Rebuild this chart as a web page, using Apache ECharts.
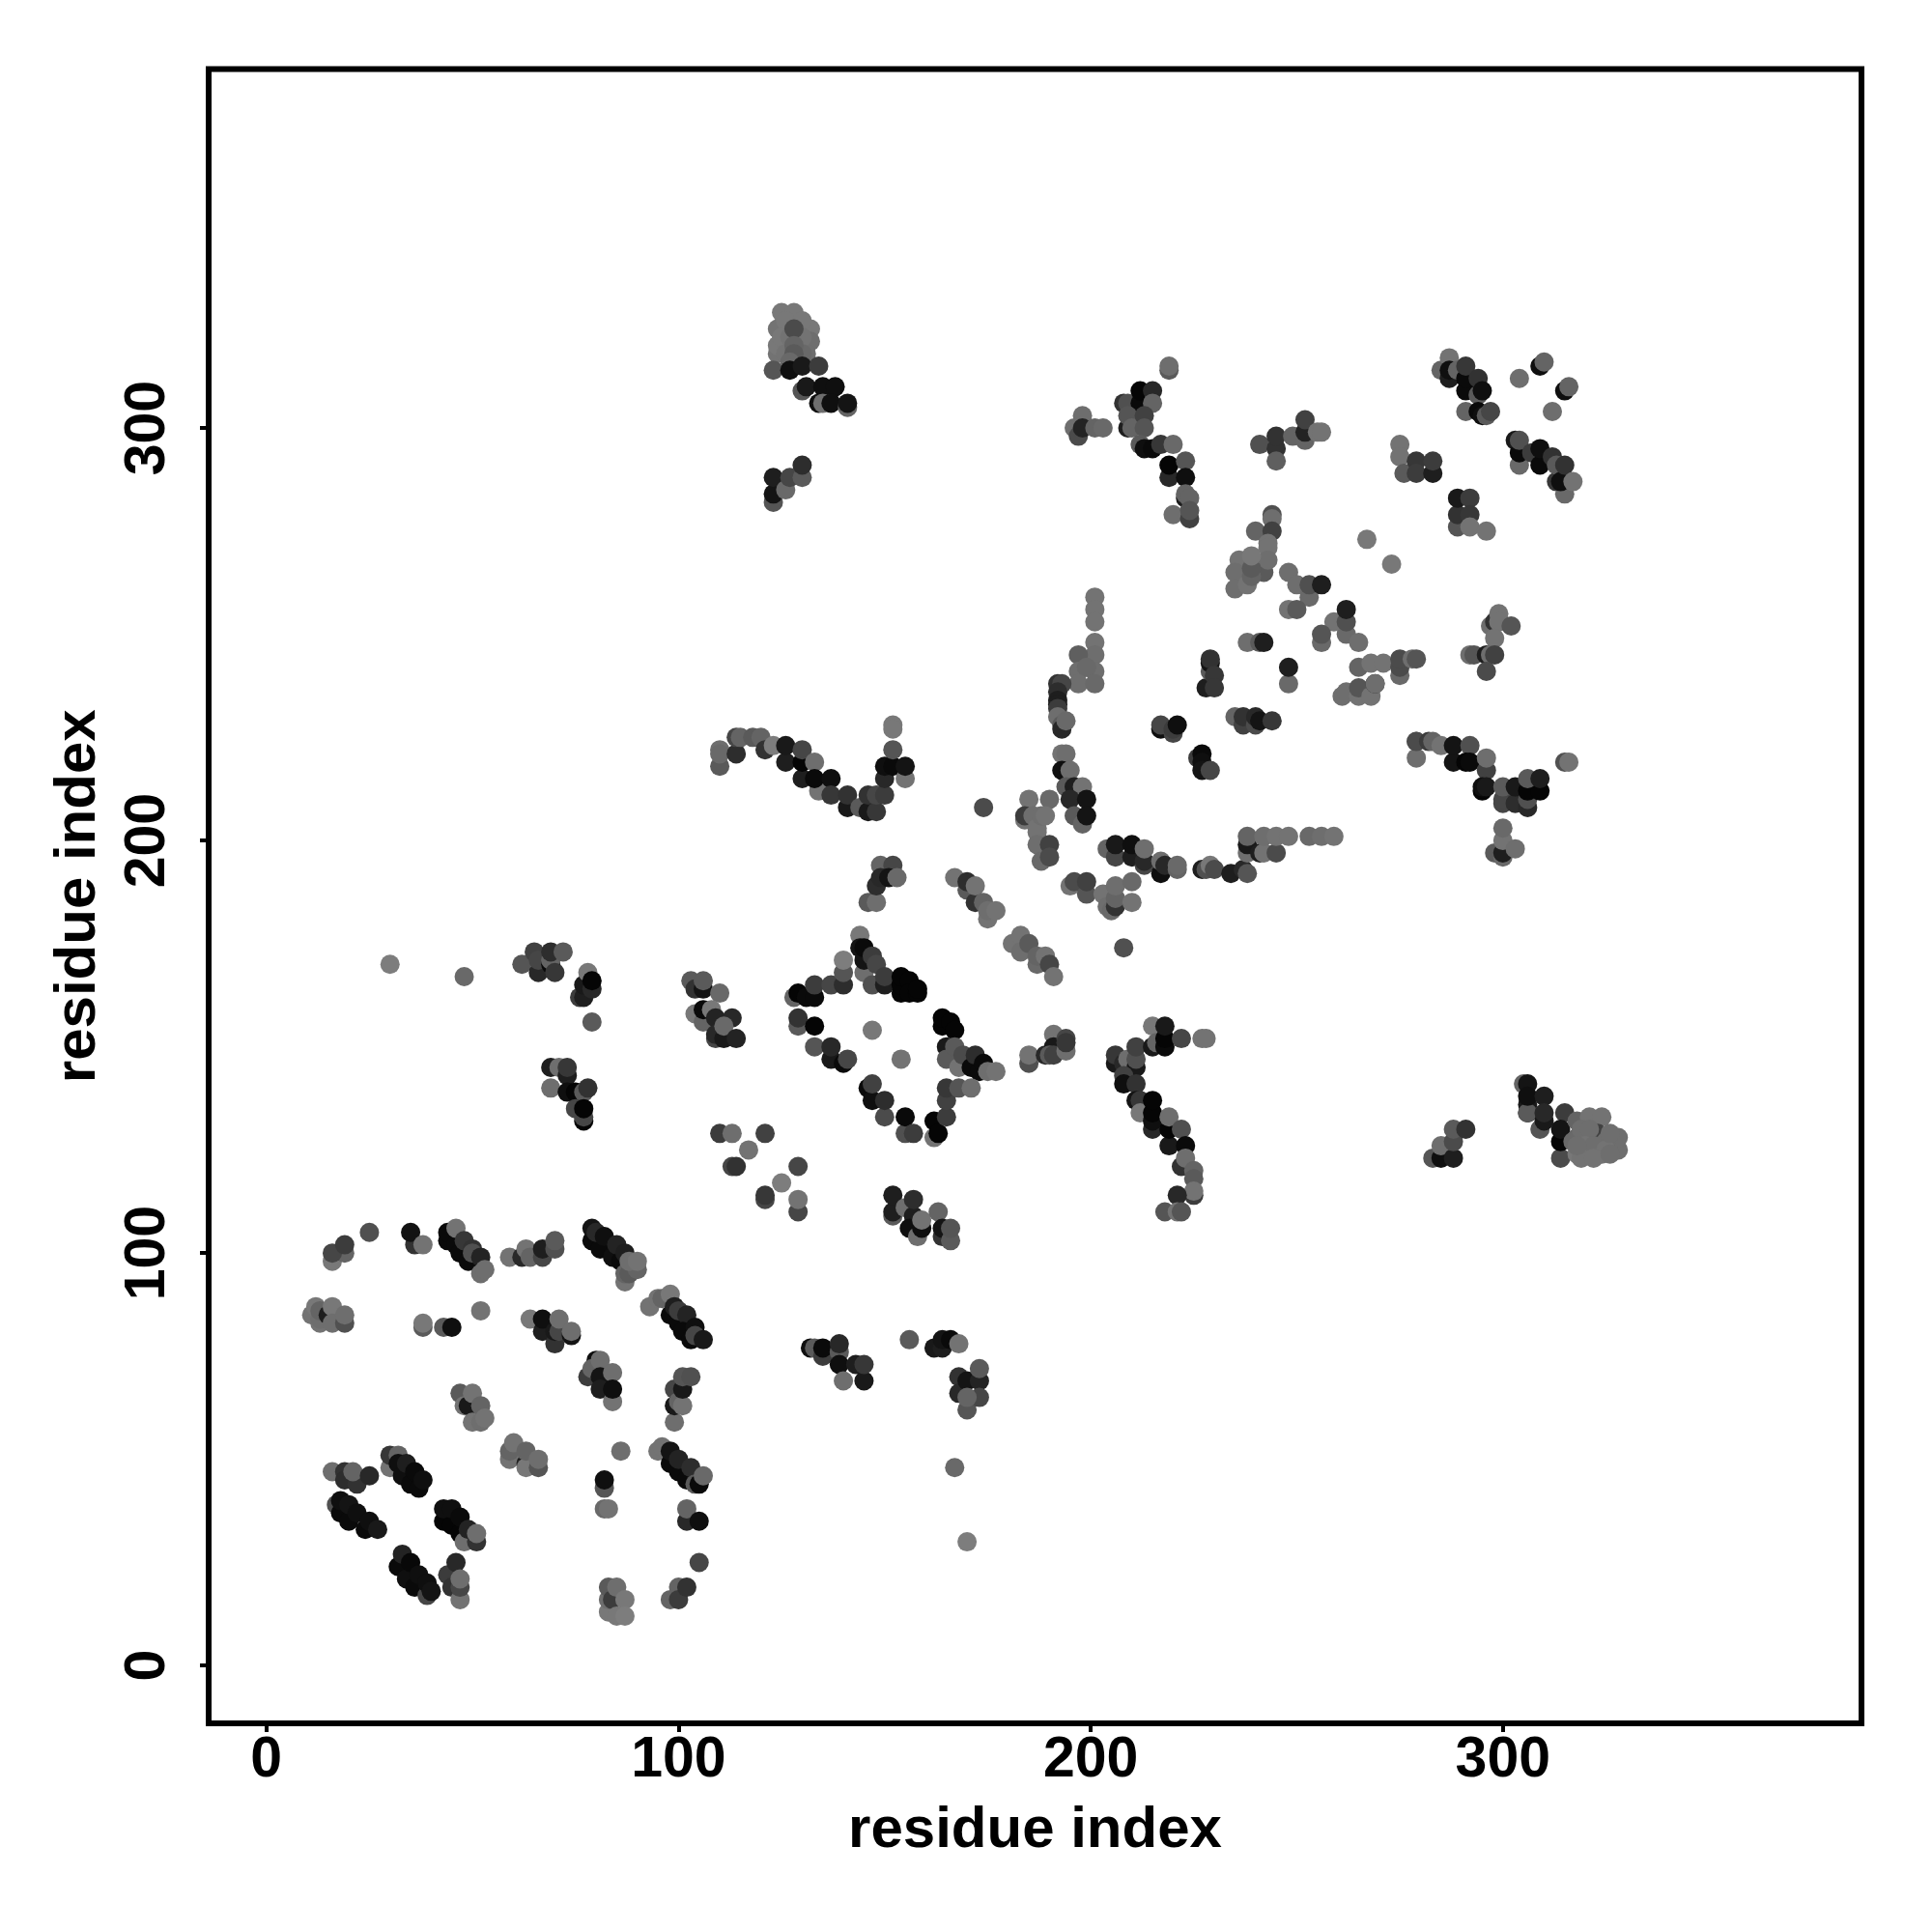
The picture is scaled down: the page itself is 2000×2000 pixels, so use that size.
<!DOCTYPE html>
<html><head><meta charset="utf-8">
<style>html,body{margin:0;padding:0;background:#fff}#c{width:2000px;height:2000px}</style>
<script src="https://cdn.jsdelivr.net/npm/echarts@6/dist/echarts.min.js"></script>
</head><body><div id="c"></div>
<script>
const axisTitle = "residue index";
const tickValues = [0, 100, 200, 300];
// each contact: [residue i, residue j, grey level]
const lowerLeftA = [[16,98,120],[19,100,100],[16,100,70],[19,102,60],[25,105,80],[36,102,50],[35,105,18],[38,102,115],
[44,103,10],[44,105,10],[46,102,10],[47,100,10],[46,106,115],[49,98,10],[48,103,55],[50,101,50],[50,100,80],[52,99,35],[52,95,110],[53,96,110],
[59,99,115],[62,99,40],[63,101,115],[64,99,100],[67,99,70],[67,101,30],[70,101,80],[70,103,90],
[79,103,10],[79,106,20],[81,101,10],[80,105,40],[82,104,15],[84,99,15],[86,98,10],[85,102,35],[87,100,30],[87,93,115],[87,95,100],[88,95,90],[90,96,100],[88,98,110],[90,98,115]];
const lowerLeftB = [[11,85,115],[13,83,115],[13,84,110],[12,87,120],[13,86,100],[15,85,30],[16,87,120],[16,83,110],[19,83,80],[19,85,110],
[38,82,90],[38,83,120],[43,82,90],[45,82,15],[52,86,115],
[64,84,120],[67,81,30],[67,84,15],[70,78,50],[70,81,25],[71,81,70],[71,84,110],[74,80,20],[74,81,110],
[93,87,115],[95,89,115],[96,89,100],[98,90,120],[98,85,10],[99,87,30],[100,83,10],[100,86,60],[102,85,35],[101,81,10],[103,79,10],[104,82,15],[104,80,70],[106,79,25]];
const lowerLeftC = [[78,70,60],[80,74,15],[79,72,100],[81,74,110],[81,70,20],[84,71,110],[81,67,30],[84,64,115],[84,67,15],
[99,59,110],[99,67,70],[99,63,25],[100,64,100],[101,63,115],[101,67,25],[101,70,85],[103,70,80],
[47,66,90],[48,63,115],[49,63,25],[50,59,115],[50,66,115],[52,59,110],[52,63,100],[53,60,115],
[59,50,115],[59,52,100],[60,54,115],[63,49,30],[63,48,120],[63,52,100],[66,48,85],[66,50,110]];
const lowerLeftD = [[16,47,110],[19,47,50],[19,45,45],[22,44,50],[21,47,100],[25,46,40],
[30,48,115],[30,51,55],[32,51,100],[32,49,15],[33,46,15],[34,49,30],[35,44,10],[36,47,10],[37,43,10],[38,45,15],
[17,39,80],[18,37,10],[18,40,15],[20,35,10],[20,39,20],[22,37,15],[24,33,10],[25,35,15],[27,33,25],
[43,35,5],[43,38,15],[45,34,5],[45,38,15],[47,32,5],[47,36,10],[48,30,110],[49,33,35],[51,30,50],[51,32,110],
[32,24,10],[33,27,35],[34,21,15],[35,25,8],[36,19,10],[37,22,15],[39,17,70],[39,20,15],[40,18,20],
[44,22,60],[45,19,50],[46,25,40],[47,16,115],[47,19,70],[47,21,110],
[83,13,120],[83,16,110],[83,19,90],[84,16,60],[85,19,110],[85,12,120],[87,16,120],[87,12,125],
[86,52,110],[82,43,85],[82,45,15],[82,38,105],[83,38,115],
[95,52,115],[96,53,115],[98,49,10],[98,52,20],[100,47,10],[100,50,35],[102,45,10],[103,48,45],[104,44,90],[105,44,10],[106,46,105],
[102,35,40],[102,38,100],[105,35,15],[105,25,70],[98,16,100],[100,19,100],[100,16,60],[102,19,50]];
const lowerMiddle = [[132,77,15],[133,77,90],[135,75,60],[135,77,10],[139,76,90],[139,78,40],[139,73,15],[143,73,30],[145,69,25],[145,73,55],[140,69,110],
[156,79,90],[162,77,25],[164,77,30],[164,79,20],[166,79,10],[168,78,115],
[168,70,50],[168,66,40],[170,69,20],[173,69,35],[173,72,90],[170,62,85],[173,65,70],[170,65,100],
[167,48,105],[170,30,125],
[121,113,70],[121,114,55],[125,117,125],[129,110,70],[129,113,115],[129,121,70],
[110,129,60],[113,129,110],[121,129,65],[117,125,115],[113,121,70],[114,121,50],
[152,109,90],[152,110,30],[152,114,30],[155,111,110],[157,109,30],[157,113,45],[156,106,15],[158,104,110],[159,106,15],[159,108,115],[163,110,100],[164,104,50],[164,106,20],[166,103,90],[166,106,85]];
const middleLeft = [[30,170,125],[48,167,105],
[62,170,85],[65,173,65],[66,168,40],[66,171,70],[69,170,10],[69,171,100],[69,173,45],[70,168,55],[72,173,90],
[76,162,60],[77,162,30],[77,165,25],[78,168,120],[79,164,40],[79,166,5],[79,156,90],
[69,145,30],[71,145,110],[73,143,30],[73,145,55],[69,140,110],[73,139,15],[75,139,5],[77,139,90],[78,140,50],[75,135,70],[77,132,5],[77,133,70],[77,135,5],
[103,166,90],[104,164,50],[106,164,20],[106,166,90],[110,163,105],
[104,158,120],[106,156,100],[106,159,10],[108,159,120],[109,157,35],[113,157,40],[109,152,70],[109,153,40],[111,152,25],[111,155,105],[114,152,35]];
const diamond = [[128,162,100],[129,163,5],[131,162,10],[133,162,10],[133,165,60],[137,165,70],[140,165,45],[140,168,85],[140,171,125],
[144,177,120],[145,168,110],[144,174,20],[145,171,20],[145,174,10],[147,165,80],[147,172,60],[148,170,70],[150,165,30],[150,167,60],
[156,164,100],[154,163,5],[154,165,5],[154,167,5],[156,166,5],[156,163,5],[158,163,5],[158,164,5],
[129,155,90],[129,157,50],[133,155,5],[147,154,120],[133,150,85],[137,147,25],[137,150,40],[140,146,10],[141,147,70],[154,147,115],
[164,155,5],[164,157,5],[166,156,5],[167,154,5],[165,150,25],[165,147,90],[167,150,90],[168,145,115],[169,148,75],[171,145,10],[172,148,45],[173,144,10],[174,146,10],[175,144,110],[177,144,115],
[146,140,10],[147,137,15],[147,141,65],[150,133,75],[150,137,45],[155,129,80],[155,133,10],[157,129,60],[162,128,115],[162,132,5],[163,129,5],[165,133,60],[165,137,65],[165,140,55],[168,140,85],[171,140,110]];
const middleDiag = [[167,191,115],[170,188,90],[170,190,45],[172,185,50],[172,189,115],[174,185,100],[175,181,115],[175,183,110],[177,183,115],
[181,175,115],[183,177,115],[183,173,110],[185,175,90],[187,170,105],[187,172,100],[189,172,115],[190,170,70],[191,167,115],
[185,146,80],[185,148,115],[189,148,40],[191,153,115],[191,150,25],[190,148,90],[191,148,65],[194,149,110],[194,152,70],[194,151,55]];
const rightCurve = [[206,146,25],[206,148,55],[208,146,40],[209,147,110],[211,145,25],[211,147,80],[211,150,65],[208,143,65],[208,141,15],[211,141,50],
[215,150,25],[215,155,120],[216,151,100],[218,150,10],[218,152,5],[218,155,25],[222,152,70],[227,152,115],[228,152,115],
[211,137,20],[212,137,55],[212,134,120],[215,130,40],[215,132,15],[215,134,5],[215,137,5],[219,126,25],[219,130,5],[219,133,110],[222,130,80],[223,126,10],[222,121,50],[223,123,110],[225,114,60],[225,120,100],[225,118,90],[225,115,115],[221,114,40],[218,110,85],[221,110,115],[222,110,85],
[283,123,85],[285,123,15],[285,126,110],[288,123,30],[288,127,75],[288,130,90],[291,130,50],
[305,141,100],[306,141,20],[306,134,10],[306,136,25],[306,134,90],[306,138,15],[310,138,30],[309,130,85],[310,132,25],[310,134,40],[314,123,75],[315,134,60],[314,127,5],[314,130,20],[318,132,100],[318,128,100],[317,127,105],[321,133,115],[324,133,115],[321,128,110],[323,129,65],[328,125,110],[328,128,110],[318,124,120],[321,124,120],[324,124,115],
[319,130,110],[321,130,110],[325,127,110],[320,126,115],[322,126,110],[325,125,115],[319,123,115],[322,123,115],[326,124,110],[326,129,110],[318,126,110]];
const upperCurve = [[110,218,90],[110,222,110],[110,221,105],[114,221,45],[114,225,70],[115,225,100],[118,225,90],[120,225,100],[121,222,50],[123,223,125],[126,219,30],[126,223,25],[130,215,30],[130,219,5],[130,222,70],[133,219,110],[134,212,115],[133,215,10],[137,215,15],[137,211,55],[141,208,25],[141,211,50],[144,208,90],[146,207,25],[146,211,50],[148,207,55],[148,211,70],[150,211,60],
[150,215,40],[150,218,15],[152,218,10],[152,222,85],[152,228,120],[152,227,120],[155,215,115],[155,218,20],
[149,194,100],[152,194,70],[146,185,90],[148,185,110],[148,189,45],[149,191,40],[151,191,20],[153,191,105]];
const centralFan = [[174,208,75],
[185,210,115],[190,210,105],[184,205,115],[184,206,60],[186,206,110],[187,202,115],[187,203,115],[188,206,110],[189,206,115],[187,199,110],[190,199,65],[188,195,105],[190,196,75],
[201,259,115],[201,256,115],[201,253,115],[201,248,115],[201,245,110],[197,245,95],[197,241,110],[201,241,110],[199,242,105],[197,238,110],[201,238,105],
[192,238,50],[193,238,70],[192,236,45],[192,234,30],[192,233,30],[192,232,60],[192,230,110],[193,228,90],[193,227,40],[194,229,105],[193,221,115],[194,221,110],[193,217,15],[195,217,110],[194,213,90],[196,213,30],[198,213,115],[195,210,40],[199,210,20],[196,206,90],[198,204,100],[199,206,20],
[204,198,100],[206,196,70],[206,199,25],[210,196,30],[210,199,15],[213,194,70],[213,195,40],[213,198,110],[217,192,15],[217,195,110],[218,194,40],[221,193,100],[221,194,105],
[227,193,30],[228,193,80],[229,194,120],[230,193,75],[234,192,30],[237,193,40],[238,192,85],
[238,197,110],[238,199,25],[238,201,100],[241,197,30],[242,197,115],[242,201,110],[245,197,75],[245,201,115],[248,201,115],[253,201,105],[256,201,110],[259,201,115],
[195,189,115],[196,190,75],[199,187,85],[199,190,65],[203,187,115],[204,184,110],[205,183,105],[206,184,50],[206,186,100],[206,189,110],[210,185,115],[210,190,105],[208,174,80]];
const upperCentre = [[240,275,100],[244,279,80],[244,278,110],[244,275,65],[243,272,115],[243,271,115],[236,268,115],[235,265,110],[235,261,110],[238,262,115],[242,265,90],[243,268,110],[239,264,100],[239,266,90],[239,269,120],
[248,265,110],[250,262,110],[253,259,105],[253,262,80],[256,262,30],[248,256,115],[250,256,90],[267,273,120],[273,267,120],
[262,250,105],[259,253,115],[262,253,80],[262,256,30],[256,248,105],[256,250,85],[265,248,110],
[238,248,110],[241,248,90],[242,248,30],
[228,237,30],[229,241,90],[229,243,20],[229,244,50],[230,240,55],[230,237,55],[248,238,105],[248,242,30],
[265,242,100],[268,243,115],[271,243,115],[275,240,105],[275,242,75],[275,244,75],[278,244,110],[279,244,85],
[261,235,110],[262,236,110],[265,235,115],[265,237,85],[268,235,115],[269,238,40],[269,238,110],
[297,252,110],[298,253,50],[299,255,115],[299,253,115],[302,252,85],[298,249,115],[292,245,110],[293,245,85],[296,245,30],[297,245,110],[298,245,65],[296,241,75],
[235,230,100],[237,228,65],[237,230,50],[240,228,75],[240,230,40],[241,229,20],[244,229,55],
[217,227,15],[217,228,70],[220,226,70],[220,227,60],[221,228,15],[226,220,60],[227,221,10],[227,219,15],[227,217,20],[229,217,70]];
const rightBranch = [[279,220,110],[279,224,110],[279,224,75],[282,224,60],[283,224,100],[285,223,115],[288,219,20],[288,223,20],[292,223,80],[291,219,5],[292,219,10],[296,217,65],[296,220,110],
[295,212,5],[295,213,15],[296,213,25],[300,209,70],[300,210,70],[300,213,90],[303,209,45],[303,213,25],[306,208,40],[306,210,80],[306,212,5],[309,212,5],[306,215,90],[309,215,30],
[298,197,90],[300,196,105],[300,197,30],[300,200,115],[300,203,105],[303,198,110],[315,219,80],[316,219,115]];
const topRight = [[285,314,100],[287,317,115],[287,312,30],[287,314,15],[289,314,100],[291,309,10],[291,312,10],[291,315,55],[294,308,90],[294,312,50],[295,309,15],
[291,304,100],[294,304,10],[295,303,15],[296,303,90],[297,304,70],
[304,312,110],[309,315,15],[310,316,100],[315,309,15],[316,310,100],[312,304,110],
[275,296,115],[275,293,115],[276,289,90],[279,292,55],[279,289,60],[283,289,30],[283,292,60],
[289,276,85],[289,279,50],[289,283,25],[292,283,60],[292,279,55],[292,276,115],[296,275,115],
[304,291,105],[303,297,25],[304,294,10],[304,297,80],[307,294,60],[309,291,10],[309,295,15],[312,293,50],[313,287,55],[313,291,90],[315,284,105],[314,287,15],[315,291,50],[317,287,115]];
const topLeft = [[124,318,115],[124,320,120],[124,324,115],[125,328,120],[128,328,120],[132,324,120],[132,321,110],[131,318,110],
[126,326,120],[130,326,120],[125,322,120],[127,322,115],[130,322,115],[126,318,115],[130,318,105],[128,316,110],
[128,324,75],[128,320,100],[128,318,90],[127,316,105],
[123,314,85],[127,314,15],[130,315,25],[134,315,60],[130,309,85],[131,310,25],[135,310,15],[138,310,15],[134,306,15],[135,306,110],[137,306,15],[141,305,100],[141,306,20],
[123,282,85],[123,284,20],[123,288,30],[126,285,105],[127,288,70],[130,288,90],[130,291,45]];
const topMiddle = [[219,314,90],[219,315,110],
[196,300,110],[198,303,110],[197,298,75],[198,300,35],[201,300,100],[203,300,105],
[208,306,50],[209,306,80],[212,306,10],[212,309,5],[215,309,40],[215,306,100],[209,300,30],[209,303,85],[210,300,100],[213,303,65],[213,300,85],
[212,296,90],[213,295,15],[215,295,10],[217,296,55],[220,296,105],
[219,288,40],[219,291,5],[223,292,85],[223,288,15],[223,283,30],[223,284,100],[224,283,100],[220,279,110],[224,278,65],[224,280,85],
[241,296,80],[245,295,50],[245,292,95],[245,298,50],[249,298,100],[252,297,100],[252,299,35],[252,302,65],[255,299,115],[256,299,115]];

const contacts = [].concat(lowerLeftA, lowerLeftB, lowerLeftC, lowerLeftD, lowerMiddle, middleLeft, diamond, middleDiag,
  rightCurve, upperCurve, centralFan, upperCentre, rightBranch, topRight, topLeft, topMiddle);

const font = '"Liberation Sans", Arial, sans-serif';
function axis(rotate, margin, gap) {
  return {
    type: 'value', min: -14, max: 387,
    name: axisTitle, nameLocation: 'middle', nameGap: gap,
    nameTextStyle: {color: '#000', fontFamily: font, fontWeight: 'bold', fontSize: 60},
    axisLine: {show: false, onZero: false},
    splitLine: {show: false},
    axisTick: {show: true, length: 9, inside: false, customValues: tickValues, lineStyle: {color: '#000', width: 4}},
    axisLabel: {show: true, customValues: tickValues, rotate: rotate, margin: margin, color: '#000', fontFamily: font, fontWeight: 'bold', fontSize: 59}
  };
}
const chart = echarts.init(document.getElementById('c'), null, {renderer: 'canvas'});
chart.setOption({
  animation: false,
  backgroundColor: '#fff',
  grid: {left: 216, top: 71.5, width: 1711, height: 1712.5, show: true, borderColor: '#000', borderWidth: 6, backgroundColor: 'transparent', containLabel: false},
  xAxis: axis(0, 9, 81),
  yAxis: axis(90, 33, 105),
  series: [{
    type: 'scatter', symbol: 'circle', symbolSize: 20,
    data: contacts,
    encode: {x: 0, y: 1},
    itemStyle: {opacity: 1, color: p => { const g = p.value[2]; return `rgb(${g},${g},${g})`; }}
  }]
});
</script></body></html>
